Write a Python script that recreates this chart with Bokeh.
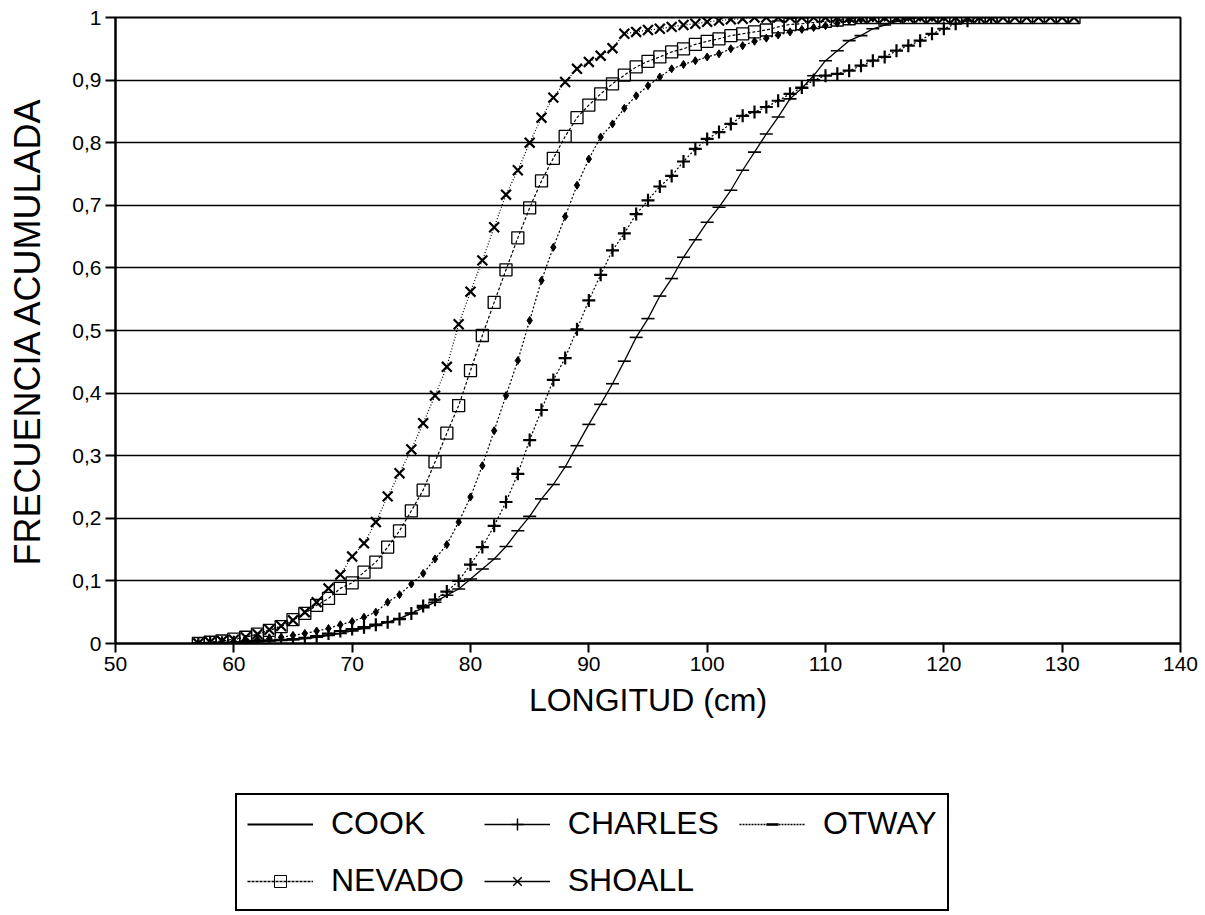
from bokeh.plotting import figure
from bokeh.layouts import column
from bokeh.models import Range1d, FixedTicker, Legend, LegendItem
from bokeh.embed import file_html
from bokeh.resources import INLINE

# ---------------- data ----------------
shoall_x = list(range(57, 132))
shoall_y = [0.000, 0.002, 0.004, 0.006, 0.010, 0.015, 0.022, 0.028, 0.037, 0.050,
            0.066, 0.088, 0.110, 0.139, 0.160, 0.194, 0.235, 0.272, 0.310, 0.352,
            0.396, 0.442, 0.510, 0.562, 0.612, 0.665, 0.717, 0.756, 0.800, 0.840,
            0.872, 0.897, 0.918, 0.929, 0.939, 0.951, 0.974, 0.977, 0.980, 0.982,
            0.985, 0.988, 0.990, 0.993, 0.995, 0.997, 0.998,
            1.0, 1.0, 1.0, 1.0, 1.0, 1.0, 1.0, 1.0, 1.0, 1.0, 1.0, 1.0, 1.0, 1.0,
            1.0, 1.0, 1.0, 1.0, 1.0, 1.0, 1.0, 1.0, 1.0, 1.0, 1.0, 1.0, 1.0, 1.0]

nevado_x = list(range(57, 132))
nevado_y = [0.000, 0.002, 0.004, 0.007, 0.010, 0.015, 0.021, 0.027, 0.038, 0.048,
            0.061, 0.072, 0.088, 0.097, 0.114, 0.130, 0.154, 0.180, 0.212, 0.245,
            0.290, 0.336, 0.380, 0.436, 0.492, 0.545, 0.597, 0.648, 0.696, 0.739,
            0.775, 0.810, 0.840, 0.860, 0.878, 0.894, 0.908, 0.921, 0.930, 0.937,
            0.945, 0.950, 0.957, 0.962, 0.966, 0.971, 0.974, 0.977, 0.980, 0.985,
            0.989, 0.990, 0.992, 0.994, 0.996, 0.998,
            1.0, 1.0, 1.0, 1.0, 1.0, 1.0, 1.0, 1.0, 1.0, 1.0, 1.0, 1.0, 1.0, 1.0,
            1.0, 1.0, 1.0, 1.0, 1.0]

otway_x = list(range(57, 121))
otway_y = [0.000, 0.001, 0.002, 0.003, 0.004, 0.006, 0.008, 0.010, 0.013, 0.016,
           0.020, 0.024, 0.030, 0.035, 0.042, 0.050, 0.066, 0.078, 0.095, 0.112,
           0.135, 0.158, 0.194, 0.234, 0.284, 0.340, 0.396, 0.452, 0.516, 0.580,
           0.633, 0.682, 0.732, 0.774, 0.809, 0.830, 0.855, 0.875, 0.891, 0.905,
           0.918, 0.925, 0.931, 0.937, 0.942, 0.950, 0.955, 0.962, 0.967, 0.972,
           0.977, 0.981, 0.984, 0.987, 0.991, 0.995, 0.997, 0.999,
           1.0, 1.0, 1.0, 1.0, 1.0, 1.0]

charles_x = list(range(57, 125))
charles_y = [0.000, 0.001, 0.001, 0.002, 0.003, 0.004, 0.005, 0.006, 0.007, 0.009,
             0.012, 0.016, 0.020, 0.023, 0.026, 0.030, 0.034, 0.039, 0.048, 0.060,
             0.070, 0.083, 0.100, 0.126, 0.154, 0.188, 0.226, 0.271, 0.325, 0.373,
             0.421, 0.456, 0.502, 0.548, 0.589, 0.628, 0.655, 0.686, 0.708, 0.730,
             0.747, 0.770, 0.790, 0.806, 0.817, 0.830, 0.843, 0.849, 0.857, 0.867,
             0.878, 0.888, 0.900, 0.907, 0.910, 0.915, 0.923, 0.931, 0.937, 0.947,
             0.955, 0.963, 0.974, 0.982, 0.990, 0.995, 1.0, 1.0]

cook_x = list(range(57, 121))
cook_y = [0.000, 0.000, 0.001, 0.001, 0.002, 0.003, 0.004, 0.005, 0.006, 0.008,
          0.010, 0.013, 0.016, 0.020, 0.024, 0.029, 0.034, 0.040, 0.048, 0.057,
          0.066, 0.077, 0.087, 0.103, 0.119, 0.135, 0.155, 0.180, 0.203, 0.231,
          0.254, 0.282, 0.316, 0.350, 0.382, 0.415, 0.451, 0.489, 0.519, 0.555,
          0.583, 0.617, 0.645, 0.673, 0.697, 0.724, 0.756, 0.785, 0.814, 0.841,
          0.870, 0.887, 0.907, 0.931, 0.947, 0.963, 0.971, 0.982, 0.988, 0.994,
          0.998, 1.0, 1.0, 1.0]

x_ticks = [50, 60, 70, 80, 90, 100, 110, 120, 130, 140]
y_ticks = [0.0, 0.1, 0.2, 0.3, 0.4, 0.5, 0.6, 0.7, 0.8, 0.9, 1.0]
y_tick_labels = ["0", "0,1", "0,2", "0,3", "0,4", "0,5", "0,6", "0,7", "0,8", "0,9", "1"]

FONT = "Liberation Sans"
MAIN_H = 745
LEFT, RIGHT = 115, 25

# ---------------- main chart ----------------
p = figure(width=1205, height=MAIN_H, output_backend="svg", toolbar_location=None,
           x_range=Range1d(50, 140), y_range=Range1d(0, 1),
           min_border_left=LEFT, min_border_right=RIGHT, min_border_top=17,
           min_border_bottom=MAIN_H - 17 - 626)
p.background_fill_color = "white"
p.border_fill_color = "white"
p.outline_line_color = "black"
p.outline_line_width = 2

p.xgrid.visible = False
p.ygrid.grid_line_color = "black"
p.ygrid.grid_line_width = 1.5
p.ygrid.ticker = FixedTicker(ticks=y_ticks)

for ax in (p.xaxis[0], p.yaxis[0]):
    ax.axis_line_color = "black"
    ax.axis_line_width = 2
    ax.major_tick_line_color = "black"
    ax.major_tick_line_width = 2
    ax.major_tick_in = 0
    ax.minor_tick_line_color = None
    ax.major_label_text_font = FONT
    ax.major_label_text_font_size = "21px"
    ax.major_label_text_color = "black"
    ax.axis_label_text_font = FONT
    ax.axis_label_text_font_style = "normal"
    ax.axis_label_text_color = "black"

p.xaxis.ticker = FixedTicker(ticks=x_ticks)
p.xaxis.major_tick_out = 9
p.xaxis.major_label_standoff = 4
p.xaxis.axis_label = "LONGITUD (cm)"
p.xaxis.axis_label_text_font_size = "32px"
p.xaxis.axis_label_standoff = 8

p.yaxis.ticker = FixedTicker(ticks=y_ticks)
p.yaxis.major_label_overrides = {t: l for t, l in zip(y_ticks, y_tick_labels)}
p.yaxis.major_tick_out = 10
p.yaxis.major_label_standoff = 4
p.yaxis.axis_label = "FRECUENCIA ACUMULADA"
p.yaxis.axis_label_text_font_size = "36px"
p.yaxis.axis_label_standoff = 21

# ---------------- series ----------------
p.line(cook_x, cook_y, line_color="black", line_width=1.3)
p.scatter(cook_x, cook_y, marker="dash", size=13, line_color="black", line_width=1.6)

p.line(charles_x, charles_y, line_color="black", line_width=1.2, line_dash="2 2")
p.scatter(charles_x, charles_y, marker="cross", size=13, line_color="black", line_width=2.2)

p.line(otway_x, otway_y, line_color="black", line_width=1.2, line_dash="2 2")
p.scatter(otway_x, otway_y, marker="diamond", size=8, fill_color="black", line_color="black")

p.line(nevado_x, nevado_y, line_color="black", line_width=1.2, line_dash="3 2")
p.scatter(nevado_x, nevado_y, marker="square", size=12, fill_color=None,
          line_color="black", line_width=1.3)

p.line(shoall_x, shoall_y, line_color="black", line_width=1.2, line_dash="1 2")
p.scatter(shoall_x, shoall_y, marker="x", size=14, line_color="black", line_width=2.2)

# ---------------- legend panel (separate figure holding legend key glyphs) ----------------
LEG_H = 915 - MAIN_H
lf = figure(width=1205, height=LEG_H, output_backend="svg", toolbar_location=None,
            x_range=Range1d(0, 1), y_range=Range1d(0, 1),
            x_axis_location=None, y_axis_location=None,
            min_border_left=LEFT, min_border_top=0,
            min_border_right=RIGHT, min_border_bottom=0)
lf.outline_line_color = None
lf.xgrid.visible = False
lf.ygrid.visible = False
lf.background_fill_color = "white"
lf.border_fill_color = "white"

# key glyphs: one off-screen point each, only their style is shown in the legend
kx, ky = [-5.0], [-5.0]
lg_cook = lf.line(kx, ky, line_color="black", line_width=2)
lg_charles_l = lf.line(kx, ky, line_color="black", line_width=1.5)
lg_charles_m = lf.scatter(kx, ky, marker="cross", size=14, line_color="black", line_width=1.5)
lg_otway_l = lf.line(kx, ky, line_color="black", line_width=1.5, line_dash="2 1")
lg_otway_m = lf.scatter(kx, ky, marker="dash", size=14, line_color="black", line_width=2.5)
lg_nevado_l = lf.line(kx, ky, line_color="black", line_width=1.5, line_dash="3 1")
lg_nevado_m = lf.scatter(kx, ky, marker="square", size=12, fill_color=None,
                         line_color="black", line_width=1)
lg_shoall_l = lf.line(kx, ky, line_color="black", line_width=1.5)
lg_shoall_m = lf.scatter(kx, ky, marker="x", size=14, line_color="black", line_width=1.5)

items = [
    LegendItem(label="COOK", renderers=[lg_cook]),
    LegendItem(label="CHARLES", renderers=[lg_charles_l, lg_charles_m]),
    LegendItem(label="OTWAY", renderers=[lg_otway_l, lg_otway_m]),
    LegendItem(label="NEVADO", renderers=[lg_nevado_l, lg_nevado_m]),
    LegendItem(label="SHOALL", renderers=[lg_shoall_l, lg_shoall_m]),
]
legend = Legend(items=items, orientation="horizontal", ncols=3, location=(120, 4))
legend.label_text_font = FONT
legend.label_text_font_size = "32px"
legend.label_text_color = "black"
legend.glyph_width = 66
legend.glyph_height = 30
legend.label_standoff = 18
legend.spacing = 20
legend.padding = 10
legend.margin = 0
legend.border_line_color = "black"
legend.border_line_alpha = 1.0
legend.border_line_width = 2
legend.background_fill_color = "white"
legend.background_fill_alpha = 1.0
lf.add_layout(legend, "center")

layout = column(p, lf, spacing=0)
open("out.html", "w").write(file_html(layout, INLINE))
